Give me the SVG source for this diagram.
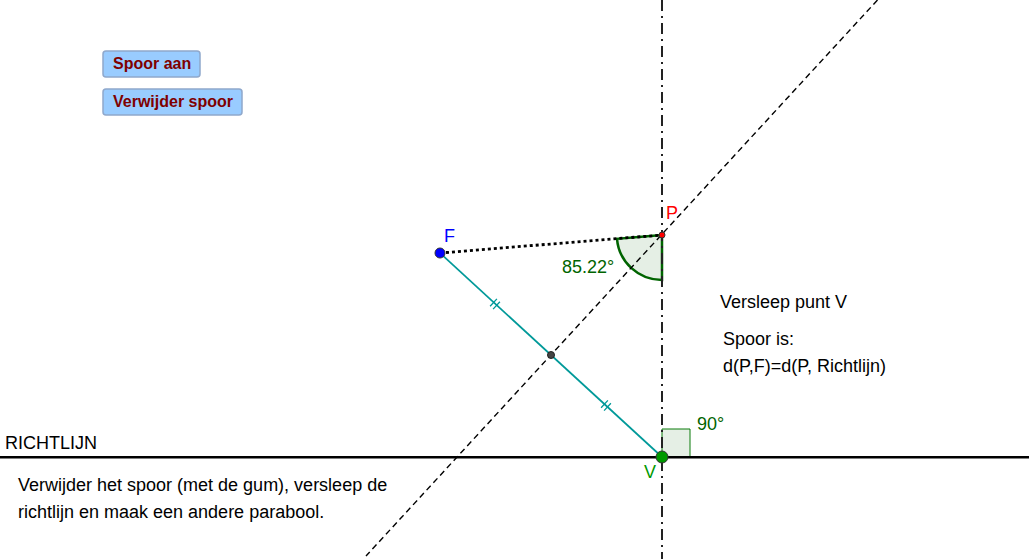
<svg xmlns="http://www.w3.org/2000/svg" width="1031" height="559" viewBox="0 0 1031 559">
<style>
text{font-family:"Liberation Sans",Arial,sans-serif;font-size:18px;fill:#000}
.btn{fill:#99ccff;stroke:#8fa8cc;stroke-width:1.5}
.btnt{font-weight:bold;fill:#7f0000;font-size:16px}
.tick{stroke:#009999;stroke-width:1.300}
</style>
<rect width="1031" height="559" fill="#fff"/>
<g id="connectors" fill="none">
<path d="M662 429H690V457H662Z" fill="#006400" fill-opacity=".1" stroke="#0a7a0a" stroke-width="1"/>
<path d="M662 235L617 238.800A45 45 0 0 0 662 280Z" fill="#006400" fill-opacity=".1" stroke="#006400" stroke-width="2.500"/>
<line id="richtlijn" x1="0" y1="457.300" x2="1029" y2="457.300" stroke="#000" stroke-width="2.500"/>
<line id="loodlijn" x1="662" y1="0" x2="662" y2="559" stroke="#222" stroke-width="2" stroke-dasharray="11 5 2 5"/>
<line id="middelloodlijn" x1="877.500" y1="0" x2="366" y2="556" stroke="#000" stroke-width="1.400" stroke-dasharray="6 4"/>
<line id="FP" x1="440" y1="253" x2="662" y2="235" stroke="#000" stroke-width="2.800" stroke-dasharray="3 3"/>
<line id="FV" x1="440" y1="253" x2="662" y2="457" stroke="#009999" stroke-width="1.700"/>
<path class="tick" d="M490.100 306.300L496.900 298.900M493.100 309.100L499.900 301.700M601.100 407.800L607.900 400.400M604.100 410.600L610.900 403.200"/>
</g>
<g id="btn-aan"><rect class="btn" x="103" y="51" width="97" height="26" rx="3"/><text class="btnt" x="113" y="68.500">Spoor aan</text></g>
<g id="btn-verwijder"><rect class="btn" x="103" y="89" width="139" height="26" rx="3"/><text class="btnt" x="113" y="106.500">Verwijder spoor</text></g>
<g id="F"><circle cx="440" cy="253" r="5" fill="#0000ff" stroke="#333" stroke-width="1"/><text x="444" y="242" style="fill:#0000ff">F</text></g>
<g id="P"><circle cx="662" cy="235" r="3" fill="#ff0000" stroke="#333" stroke-width="1"/><text x="666" y="219" style="fill:#ff0000">P</text></g>
<g id="V"><circle cx="662" cy="457" r="6" fill="#009900" stroke="#333" stroke-width="1"/><text x="644" y="478" style="fill:#009900">V</text></g>
<g id="M"><circle cx="551" cy="355" r="3.500" fill="#444" stroke="#222" stroke-width="1"/></g>
<g id="labels">
<text x="562" y="273" style="fill:#006400">85.22°</text>
<text x="697" y="430" style="fill:#006400">90°</text>
<text x="720" y="308">Versleep punt V</text>
<text x="723" y="345">Spoor is:</text>
<text x="723" y="372">d(P,F)=d(P, Richtlijn)</text>
<text x="5" y="449">RICHTLIJN</text>
<text x="18" y="491">Verwijder het spoor (met de gum), versleep de</text>
<text x="18" y="518">richtlijn en maak een andere parabool.</text>
</g>
</svg>
